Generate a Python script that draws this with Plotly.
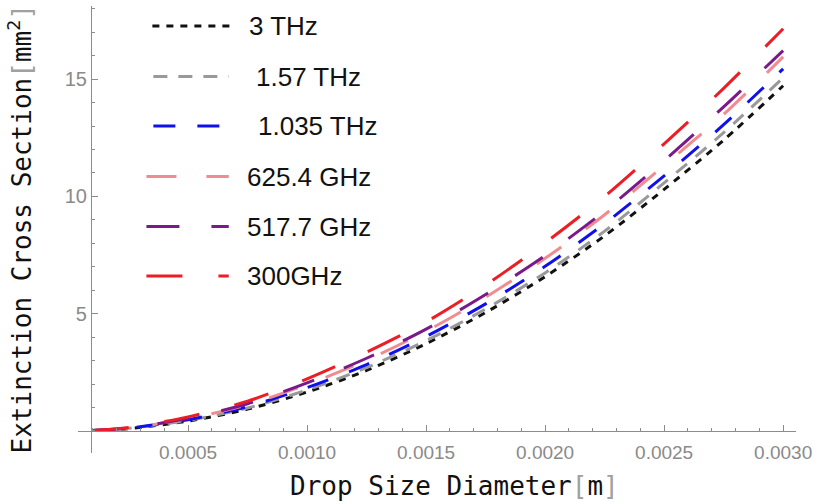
import plotly.graph_objects as go

# ---- data ----
diameter_m = [0.0001, 0.00025, 0.0005, 0.00075, 0.001, 0.00125, 0.0015,
              0.00175, 0.002, 0.00225, 0.0025, 0.00275, 0.003]

series_names = ["3 THz", "1.57 THz", "1.035 THz", "625.4 GHz", "517.7 GHz", "300GHz"]

sigma_3thz = [0.02, 0.10, 0.42, 0.93, 1.66, 2.58, 3.72, 5.05, 6.58, 8.32, 10.30, 12.40, 14.72]
sigma_1p57thz = [0.02, 0.11, 0.45, 0.98, 1.75, 2.70, 3.85, 5.20, 6.74, 8.52, 10.58, 12.72, 15.06]
sigma_1p035thz = [0.02, 0.12, 0.48, 1.04, 1.85, 2.83, 4.03, 5.42, 7.02, 8.84, 10.88, 13.06, 15.44]
sigma_625ghz = [0.02, 0.13, 0.52, 1.12, 1.98, 3.02, 4.25, 5.70, 7.36, 9.22, 11.32, 13.50, 15.95]
sigma_517ghz = [0.02, 0.13, 0.54, 1.16, 2.05, 3.10, 4.34, 5.82, 7.48, 9.38, 11.52, 13.82, 16.22]
sigma_300ghz = [0.02, 0.15, 0.60, 1.27, 2.22, 3.36, 4.65, 6.22, 8.02, 10.00, 12.24, 14.61, 17.15]

series_values = [sigma_3thz, sigma_1p57thz, sigma_1p035thz, sigma_625ghz, sigma_517ghz, sigma_300ghz]

x_tick_vals = [0.0005, 0.0010, 0.0015, 0.0020, 0.0025, 0.0030]
x_tick_text = ["0.0005", "0.0010", "0.0015", "0.0020", "0.0025", "0.0030"]
y_tick_vals = [5, 10, 15]
y_tick_text = ["5", "10", "15"]

# ---- styles ----
colors = ["#111111", "#999999", "#1010EE", "#F08C90", "#7A1A8A", "#EE1C24"]
dashes = ["7px,7px", "14px,11px", "22px,22px", "30px,30px", "33px,32px", "36px,36px"]

W, H = 818, 504
ML, MR, MT, MB = 78, 16, 6, 51
x_range = [0.0000375, 0.003054]
y_range = [-0.94, 18.12]
AXC = "#8c8c8c"


def px_to_paper(px, py):
    return ((px - ML) / (W - ML - MR), (H - MB - py) / (H - MT - MB))


fig = go.Figure()
for name, vals, col, dsh in zip(series_names, series_values, colors, dashes):
    fig.add_trace(go.Scatter(
        x=diameter_m, y=vals, mode="lines", name=name,
        line=dict(color=col, width=3, dash=dsh, shape="spline", smoothing=0.8),
        showlegend=False,
    ))

yaxis_pos = px_to_paper(91, 0)[0]
xaxis_pos = (0 - y_range[0]) / (y_range[1] - y_range[0])

fig.update_layout(
    width=W, height=H,
    margin=dict(l=ML, r=MR, t=MT, b=MB),
    paper_bgcolor="white", plot_bgcolor="white",
    xaxis=dict(
        range=x_range, anchor="free", position=xaxis_pos,
        showgrid=False, zeroline=False,
        showline=True, linecolor=AXC, linewidth=1,
        ticks="inside", ticklen=6, tickcolor=AXC, tickwidth=1,
        tickmode="array", tickvals=x_tick_vals, ticktext=x_tick_text,
        tickfont=dict(family="Liberation Sans, Arial", size=19, color="#8a8a8a"),
        ticklabelstandoff=4, ticklabeloverflow="allow",
        minor=dict(ticks="inside", ticklen=3, tickcolor=AXC, dtick=0.0001, tick0=0.0, showgrid=False),
    ),
    yaxis=dict(
        range=y_range, anchor="free", position=yaxis_pos,
        showgrid=False, zeroline=False,
        showline=True, linecolor=AXC, linewidth=1,
        ticks="inside", ticklen=6, tickcolor=AXC, tickwidth=1,
        tickmode="array", tickvals=y_tick_vals, ticktext=y_tick_text,
        tickfont=dict(family="Liberation Sans, Arial", size=20, color="#8a8a8a"),
        ticklabeloverflow="allow",
        minor=dict(ticks="inside", ticklen=3, tickcolor=AXC, dtick=1, tick0=0, showgrid=False),
    ),
)

# ---- legend (manual, Mathematica style) ----
leg_y = [26, 76.5, 126, 176.5, 226.5, 276]
leg_x0 = [153, 154, 154, 147, 147, 147]
leg_x1 = [237, 230, 221, 230, 230, 230]
leg_tx = [248, 255, 257, 246, 246, 246]
shapes = []
annotations = []
for i, name in enumerate(series_names):
    x0, y0 = px_to_paper(leg_x0[i], leg_y[i])
    x1, _ = px_to_paper(leg_x1[i], leg_y[i])
    shapes.append(dict(type="line", xref="paper", yref="paper", x0=x0, x1=x1, y0=y0, y1=y0,
                       line=dict(color=colors[i], width=3, dash=dashes[i])))
    tx, ty = px_to_paper(leg_tx[i], leg_y[i])
    annotations.append(dict(xref="paper", yref="paper", x=tx, y=ty, text=name, showarrow=False,
                            xanchor="left", yanchor="middle",
                            font=dict(family="Liberation Sans, Arial", size=26, color="#111111")))

# ---- axis titles ----
mono = "DejaVu Sans Mono, monospace"
bx, by = px_to_paper(458, 486)
annotations.append(dict(xref="paper", yref="paper", x=bx, y=by,
                        text='Drop Size Diameter<span style="color:#a0a0a0">[</span>m<span style="color:#a0a0a0">]</span>',
                        showarrow=False, xanchor="center", yanchor="middle",
                        font=dict(family=mono, size=26, color="#111111")))
lx, ly = px_to_paper(20, 229)
annotations.append(dict(xref="paper", yref="paper", x=lx, y=ly, textangle=-90,
                        text='Extinction Cross Section<span style="color:#a0a0a0">[</span>mm<sup>2</sup><span style="color:#a0a0a0">]</span>',
                        showarrow=False, xanchor="center", yanchor="middle",
                        font=dict(family=mono, size=26, color="#111111")))

fig.update_layout(shapes=shapes, annotations=annotations)
fig.write_html("out.html")
